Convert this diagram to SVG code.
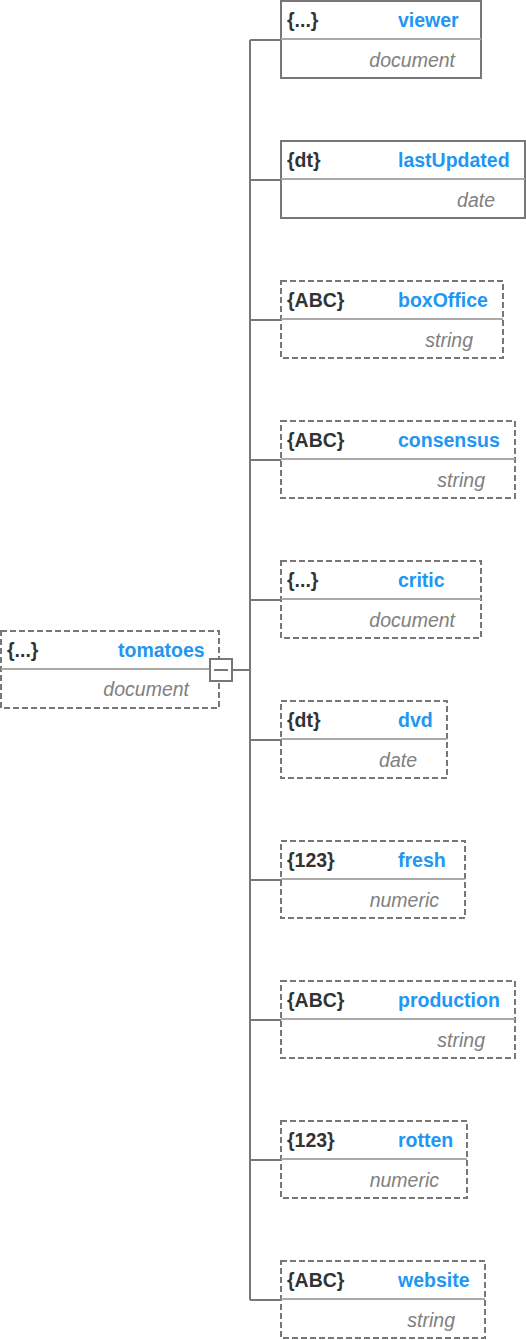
<svg xmlns="http://www.w3.org/2000/svg" width="526" height="1340" viewBox="0 0 526 1340">
<style>
.box{fill:#fff;stroke:#777;stroke-width:2}
.opt{stroke-dasharray:6 3}
.sep{stroke:#aaa;stroke-width:2}
.conn{stroke:#777;stroke-width:2;fill:none}
.t{font-family:"Liberation Sans",Arial,sans-serif;font-size:19.5px}
.typ{font-weight:bold;fill:#333}
.nm{font-weight:bold;fill:#2196F3}
.dt{font-style:italic;fill:#808080;text-anchor:end}
</style>
<g id="connectors">
<path class="conn" d="M250 40V1300M232 670H250M250 40H281M250 180H281M250 320H281M250 460H281M250 600H281M250 740H281M250 880H281M250 1020H281M250 1160H281M250 1300H281"/>
</g>
<g id="tomatoes">
<rect class="box opt" x="1" y="631" width="218" height="77"/>
<line class="sep" x1="1" y1="669" x2="219" y2="669"/>
<text class="t typ" x="7" y="657">{...}</text>
<text class="t nm" x="118" y="657">tomatoes</text>
<text class="t dt" x="189" y="696">document</text>
<rect x="210" y="659" width="22" height="22" fill="#fff" stroke="#777" stroke-width="2"/>
<line x1="214" y1="670" x2="228" y2="670" stroke="#777" stroke-width="2"/>
</g>
<g id="viewer">
<rect class="box" x="281" y="1" width="200" height="77"/>
<line class="sep" x1="281" y1="39" x2="481" y2="39"/>
<text class="t typ" x="287" y="27">{...}</text>
<text class="t nm" x="398" y="27">viewer</text>
<text class="t dt" x="455" y="67">document</text>
</g>
<g id="lastUpdated">
<rect class="box" x="281" y="141" width="244" height="77"/>
<line class="sep" x1="281" y1="179" x2="525" y2="179"/>
<text class="t typ" x="287" y="167">{dt}</text>
<text class="t nm" x="398" y="167">lastUpdated</text>
<text class="t dt" x="495" y="207">date</text>
</g>
<g id="boxOffice">
<rect class="box opt" x="281" y="281" width="222" height="77"/>
<line class="sep" x1="281" y1="319" x2="503" y2="319"/>
<text class="t typ" x="287" y="307">{ABC}</text>
<text class="t nm" x="398" y="307">boxOffice</text>
<text class="t dt" x="473" y="347">string</text>
</g>
<g id="consensus">
<rect class="box opt" x="281" y="421" width="234" height="77"/>
<line class="sep" x1="281" y1="459" x2="515" y2="459"/>
<text class="t typ" x="287" y="447">{ABC}</text>
<text class="t nm" x="398" y="447">consensus</text>
<text class="t dt" x="485" y="487">string</text>
</g>
<g id="critic">
<rect class="box opt" x="281" y="561" width="200" height="77"/>
<line class="sep" x1="281" y1="599" x2="481" y2="599"/>
<text class="t typ" x="287" y="587">{...}</text>
<text class="t nm" x="398" y="587">critic</text>
<text class="t dt" x="455" y="627">document</text>
</g>
<g id="dvd">
<rect class="box opt" x="281" y="701" width="166" height="77"/>
<line class="sep" x1="281" y1="739" x2="447" y2="739"/>
<text class="t typ" x="287" y="727">{dt}</text>
<text class="t nm" x="398" y="727">dvd</text>
<text class="t dt" x="417" y="767">date</text>
</g>
<g id="fresh">
<rect class="box opt" x="281" y="841" width="184" height="77"/>
<line class="sep" x1="281" y1="879" x2="465" y2="879"/>
<text class="t typ" x="287" y="867">{123}</text>
<text class="t nm" x="398" y="867">fresh</text>
<text class="t dt" x="439" y="907">numeric</text>
</g>
<g id="production">
<rect class="box opt" x="281" y="981" width="234" height="77"/>
<line class="sep" x1="281" y1="1019" x2="515" y2="1019"/>
<text class="t typ" x="287" y="1007">{ABC}</text>
<text class="t nm" x="398" y="1007">production</text>
<text class="t dt" x="485" y="1047">string</text>
</g>
<g id="rotten">
<rect class="box opt" x="281" y="1121" width="186" height="77"/>
<line class="sep" x1="281" y1="1159" x2="467" y2="1159"/>
<text class="t typ" x="287" y="1147">{123}</text>
<text class="t nm" x="398" y="1147">rotten</text>
<text class="t dt" x="439" y="1187">numeric</text>
</g>
<g id="website">
<rect class="box opt" x="281" y="1261" width="204" height="77"/>
<line class="sep" x1="281" y1="1299" x2="485" y2="1299"/>
<text class="t typ" x="287" y="1287">{ABC}</text>
<text class="t nm" x="398" y="1287">website</text>
<text class="t dt" x="455" y="1327">string</text>
</g>
</svg>
